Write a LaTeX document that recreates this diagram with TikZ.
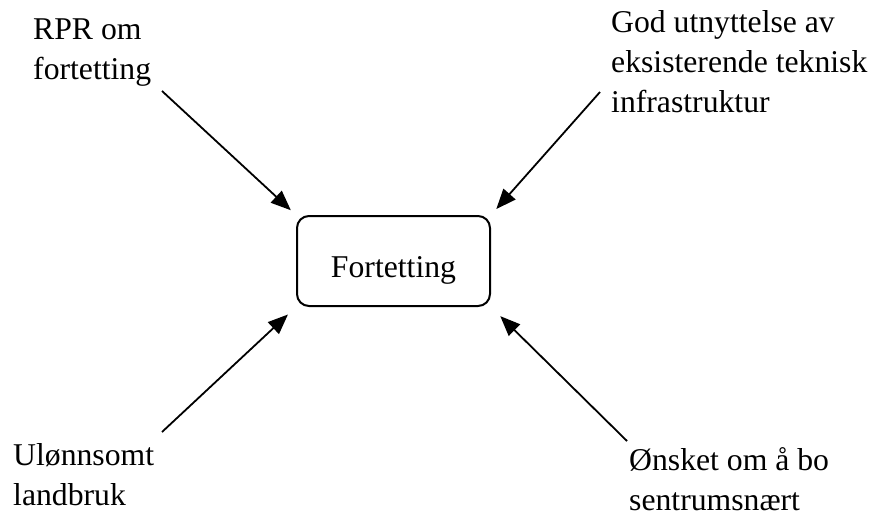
\documentclass[tikz,border=0pt]{standalone}
\usepackage{fontspec}
\setmainfont{Liberation Serif}
\usetikzlibrary{arrows.meta}

\begin{document}
\begin{tikzpicture}[x=1pt,y=-1pt,
		font=\fontsize{31.7}{40}\selectfont,
		main node/.style={draw,line width=2pt,rounded corners=12pt,minimum width=193pt,minimum height=90pt,text height=36pt,text depth=4pt,inner sep=0pt},
		factor node/.style={align=left,anchor=base west,inner sep=0pt},
		factor arrow/.style={line width=1.8pt,-{Triangle[length=20pt,width=16pt]}}
		]
		
		\useasboundingbox (0,0) rectangle (871,515);
		
		\node[main node] at (393.5,261) (F) {Fortetting};
		
		% base anchor sits on the last line
		\node[factor node] at (33,79) (rpr) {RPR om\\fortetting};
		\node[factor node] at (611,112) (infra) {God utnyttelse av\\eksisterende teknisk\\infrastruktur};
		\node[factor node] at (13,505) (landbruk) {Ulønnsomt\\landbruk};
		\node[factor node] at (629,510) (bo) {Ønsket om å bo\\sentrumsnært};
		
		\coordinate (rpr end) at (162,91);
		\coordinate (infra end) at (600,92);
		\coordinate (landbruk end) at (162,432);
		\coordinate (bo end) at (627,441);
		
		\draw[factor arrow,shorten >=7pt] (rpr end) -- (F.north west);
		\draw[factor arrow,shorten >=8pt] (infra end) -- (F.north east);
		\draw[factor arrow,shorten >=11pt] (landbruk end) -- (F.south west);
		\draw[factor arrow,shorten >=13pt] (bo end) -- (F.south east);
		\end{tikzpicture}
\end{document}
